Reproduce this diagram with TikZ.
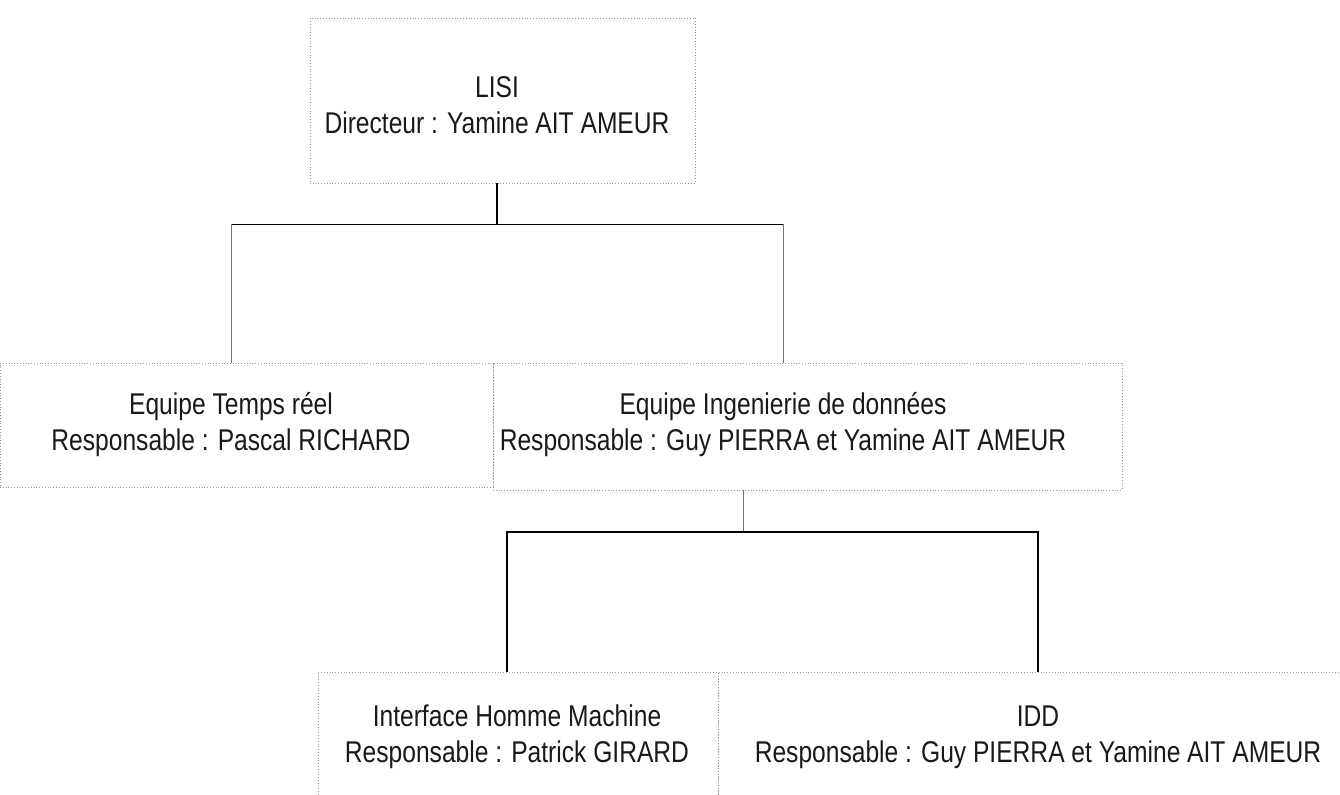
\documentclass[tikz,border=0pt]{standalone}
\usepackage{fontspec}
\setmainfont{Liberation Sans}[FakeStretch=0.82]
\usetikzlibrary{fit}
\tikzset{
  orgbox/.style={draw=black!40, densely dotted, line width=0.4pt, inner sep=0pt, rectangle},
  orgtxt/.style={align=center, inner sep=0pt, text=black!90, font=\fontsize{15pt}{18pt}\selectfont},
  conn/.style={draw=black, line width=0.6pt},
  connfaint/.style={draw=black!55, line width=0.5pt}
}
\begin{document}
\begin{tikzpicture}[x=0.5pt,y=-0.5pt]
\useasboundingbox (0,0) rectangle (1340,795);
\clip (0,0) rectangle (1340,795);
% boxes
\node[orgbox, fit={(310,18) (695,183)}] (lisi) {};
\node[orgbox, fit={(0,363) (493,487)}] (etr) {};
\node[orgbox, fit={(493,363) (1122,490)}] (eid) {};
\node[orgbox, fit={(318,672) (718,800)}] (ihm) {};
\node[orgbox, fit={(718,672) (1345,800)}] (idd) {};
% texts
\node[orgtxt] (lisiT) at (497,105) {LISI\\Directeur : Yamine AIT AMEUR};
\node[orgtxt] (etrT) at (231,425) {Equipe Temps réel\\Responsable : Pascal RICHARD};
\node[orgtxt] (eidT) at (783,425) {Equipe Ingenierie de données\\Responsable : Guy PIERRA et Yamine AIT AMEUR};
\node[orgtxt] (ihmT) at (517,737) {Interface Homme Machine\\Responsable : Patrick GIRARD};
\node[orgtxt] (iddT) at (1038,737) {IDD\\Responsable : Guy PIERRA et Yamine AIT AMEUR};
% connectors level 1
\draw[conn] (lisiT |- lisi.south) -- ++(0,41) coordinate (j1);
\draw[conn] (etrT |- j1) -- (j1) -- (eidT |- j1);
\draw[connfaint] (etrT |- etr.north) -- (etrT |- j1);
\draw[connfaint] (eidT |- eid.north) -- (eidT |- j1);
% connectors level 2
\coordinate (j2) at (743,532);
\coordinate (ihmIn) at (507,672);
\draw[connfaint] (j2 |- eid.south) -- (j2);
\draw[conn] (ihmIn |- ihm.north) |- (j2) -| (iddT |- idd.north);
\end{tikzpicture}
\end{document}
